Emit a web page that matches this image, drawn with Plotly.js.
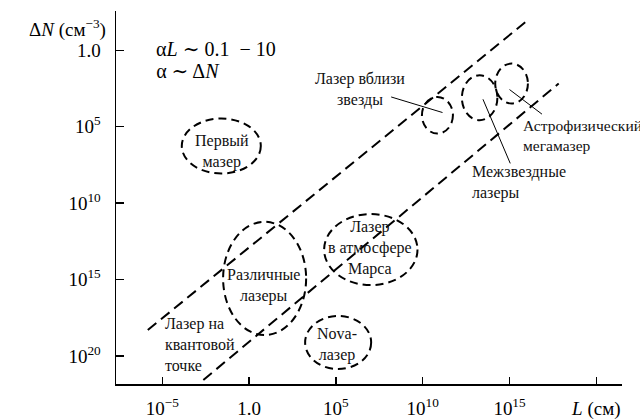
<!DOCTYPE html>
<html>
<head>
<meta charset="utf-8">
<script src="https://cdn.plot.ly/plotly-3.0.1.min.js"></script>
<style>
html,body{margin:0;padding:0;background:#fff;}
#chart{width:640px;height:419px;}
#chart svg text{font-family:"Liberation Serif","DejaVu Serif",serif !important;}
</style>
</head>
<body>
<div id="chart"></div>
<script>
// Tick positions and labels
const xTickVals = [1e-5, 1, 1e5, 1e10, 1e15, 1e20];
const xTickText = ["10<sup>−5</sup>", "1.0", "10<sup>5</sup>", "10<sup>10</sup>", "10<sup>15</sup>", "<i>L</i> (см)"];
const yTickVals = [1, 1e5, 1e10, 1e15, 1e20];
const yTickText = ["1.0", "10<sup>5</sup>", "10<sup>10</sup>", "10<sup>15</sup>", "10<sup>20</sup>"];

// Boundary lines (αL ~ 0.1 and αL ~ 10), L in cm, ΔN in cm^-3
const upperLineL = [1.45e-6, 1.0e16];
const upperLineN = [2.0e18, 1.2e-2];
const lowerLineL = [2.3e-3, 6.8e17];
const lowerLineN = [3.7e21, 150];

// Regions (ellipses): L range and ΔN range
const regionNames = ["Первый мазер", "Различные лазеры", "Лазер в атмосфере Марса", "Nova-лазер",
                     "Лазер вблизи звезды", "Межзвездные лазеры", "Астрофизический мегамазер"];
const regionL0 = [1.32e-4, 3.16e-2, 2.09e4, 1.68e3, 9.0e9, 1.8e12, 1.5e14];
const regionL1 = [4.7, 1.92e3, 5.0e9, 1.07e7, 5.5e11, 2.0e14, 1.15e16];
const regionN0 = [2.9e4, 1.66e11, 5.2e10, 2.4e17, 1.13e3, 43, 7.4];
const regionN1 = [1.15e8, 4.26e18, 2.3e15, 7.1e20, 2.8e5, 3.76e4, 3.05e3];

// Leader lines
const leaderL0 = [1.52e8, 2.95e13, 1.0e15];
const leaderN0 = [1.13e3, 1.6e3, 371];
const leaderL1 = [1.38e11, 1.1e15, 7.4e16];
const leaderN1 = [1.18e4, 2.5e7, 1.5e4];

const FONT = "Liberation Serif";
const dashLine = "11px,6px";
const dashEll = "8px,5px";

const traces = [
  {x: upperLineL, y: upperLineN, mode: "lines", line: {color: "#000", width: 2, dash: dashLine}, hoverinfo: "skip"},
  {x: lowerLineL, y: lowerLineN, mode: "lines", line: {color: "#000", width: 2, dash: dashLine}, hoverinfo: "skip"}
];

const shapes = [];
for (let i = 0; i < regionNames.length; i++) {
  shapes.push({type: "circle", xref: "x", yref: "y",
    x0: regionL0[i], x1: regionL1[i], y0: regionN0[i], y1: regionN1[i],
    line: {color: "#000", width: 2, dash: dashEll}});
}
for (let i = 0; i < leaderL0.length; i++) {
  shapes.push({type: "line", xref: "x", yref: "y",
    x0: leaderL0[i], y0: leaderN0[i], x1: leaderL1[i], y1: leaderN1[i],
    line: {color: "#000", width: 1}});
}

const lg = Math.log10;
function ann(text, L, N, xanchor, align, size) {
  return {text: text, x: lg(L), y: lg(N), xref: "x", yref: "y", showarrow: false,
    xanchor: xanchor || "center", yanchor: "middle", align: align || "center",
    font: {family: FONT, size: size || 16, color: "#111"}};
}
const annotations = [
  ann("Первый<br>мазер", 2.65e-2, 4.4e6),
  ann("Различные<br>лазеры", 6.4, 2.3e15),
  ann("Лазер<br>в атмосфере<br>Марса", 9.4e6, 8.7e12),
  ann("Nova-<br>лазер", 1.13e5, 1.66e19),
  ann("Лазер вблизи<br>звезды", 2.5e6, 380),
  ann("Астрофизический<br>мегамазер", 4.6e15, 4.0e5, "left", "left", 15.5),
  ann("Межзвездные<br>лазеры", 5.5e12, 4.5e8, "left", "left"),
  ann("Лазер на<br>квантовой<br>точке", 1.15e-5, 1.8e19, "left", "left"),
  {text: "Δ<i>N</i> (см<sup>−3</sup>)", xref: "paper", yref: "paper", x: -0.016, y: 0.953,
   xanchor: "right", yanchor: "middle", showarrow: false, font: {family: FONT, size: 19, color: "#000"}},
  {text: "α<i>L</i> ∼ 0.1\u00A0\u00A0−\u00A010", xref: "paper", yref: "paper", x: 0.076, y: 0.897,
   xanchor: "left", yanchor: "middle", showarrow: false, font: {family: FONT, size: 20, color: "#000"}},
  {text: "α ∼ Δ<i>N</i>", xref: "paper", yref: "paper", x: 0.076, y: 0.84,
   xanchor: "left", yanchor: "middle", showarrow: false, font: {family: FONT, size: 20, color: "#000"}}
];

const layout = {
  width: 640, height: 419,
  margin: {l: 116, r: 18, t: 11, b: 35},
  paper_bgcolor: "#fff", plot_bgcolor: "#fff",
  showlegend: false,
  font: {family: FONT, size: 19, color: "#000"},
  xaxis: {type: "log", range: [-7.67, 21.48], tickvals: xTickVals, ticktext: xTickText,
    ticks: "inside", ticklen: 7, tickwidth: 1.5, tickcolor: "#000",
    showline: true, linecolor: "#000", linewidth: 1.5, showgrid: false, zeroline: false,
    tickfont: {family: FONT, size: 19, color: "#000"}, ticklabelstandoff: 7},
  yaxis: {type: "log", range: [21.83, -2.57], tickvals: yTickVals, ticktext: yTickText,
    ticks: "inside", ticklen: 8, tickwidth: 1.5, tickcolor: "#000",
    showline: true, linecolor: "#000", linewidth: 1.5, showgrid: false, zeroline: false,
    tickfont: {family: FONT, size: 19, color: "#000"}, ticklabelstandoff: 10},
  shapes: shapes,
  annotations: annotations
};

Plotly.newPlot("chart", traces, layout, {staticPlot: true, displayModeBar: false});
</script>
</body>
</html>
